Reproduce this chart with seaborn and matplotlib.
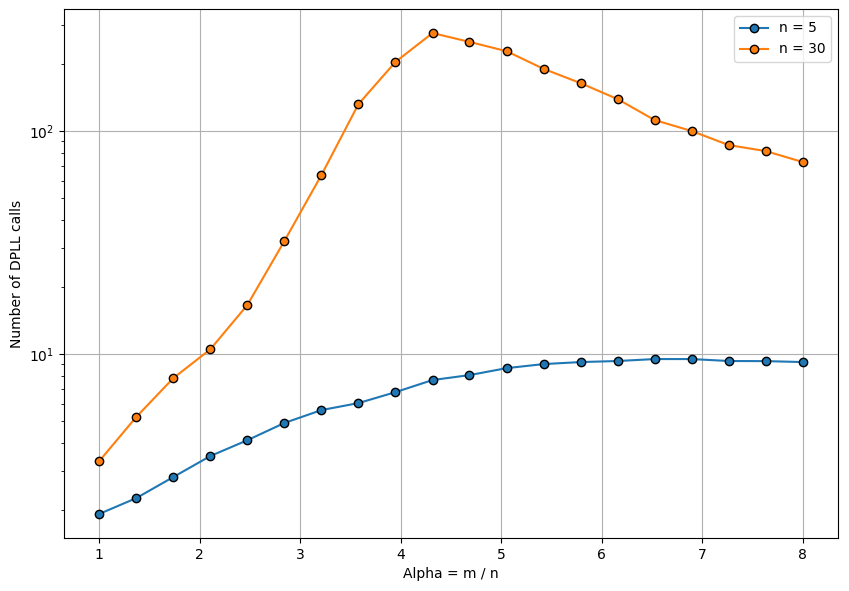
import matplotlib
matplotlib.use("Agg")
import matplotlib.pyplot as plt
import seaborn as sns
import pandas as pd

alpha = [1.0, 1.368, 1.737, 2.105, 2.474, 2.842, 3.211, 3.579, 3.947, 4.316,
         4.684, 5.053, 5.421, 5.789, 6.158, 6.526, 6.895, 7.263, 7.632, 8.0]
calls_n5 = [1.92, 2.26, 2.81, 3.49, 4.11, 4.91, 5.61, 6.03, 6.75, 7.65,
            8.05, 8.65, 9.02, 9.21, 9.31, 9.5, 9.5, 9.31, 9.3, 9.21]
calls_n30 = [3.31, 5.22, 7.8, 10.5, 16.6, 32.1, 63.5, 132, 204, 275,
             251, 228, 190, 164, 139, 112, 100, 86.5, 81.3, 72.6]
labels = ["n = 5", "n = 30"]

df = pd.concat([
    pd.DataFrame({"alpha": alpha, "calls": calls_n5, "series": labels[0]}),
    pd.DataFrame({"alpha": alpha, "calls": calls_n30, "series": labels[1]}),
])

fig = plt.figure(figsize=(8.49, 5.91), dpi=100)
ax = fig.add_axes([64/849, 1-538/591, (838-64)/849, (538-9)/591])
sns.lineplot(data=df, x="alpha", y="calls", hue="series", hue_order=labels,
             palette=["#1f77b4", "#ff7f0e"], marker="o", markeredgecolor="black",
             markeredgewidth=1, markersize=6, ax=ax)
ax.set_yscale("log")
ax.grid(True, which="major")
ax.set_xlabel("Alpha = m / n")
ax.set_ylabel("Number of DPLL calls")
ax.legend(loc="upper right")
fig.savefig("out.png", dpi=100)
